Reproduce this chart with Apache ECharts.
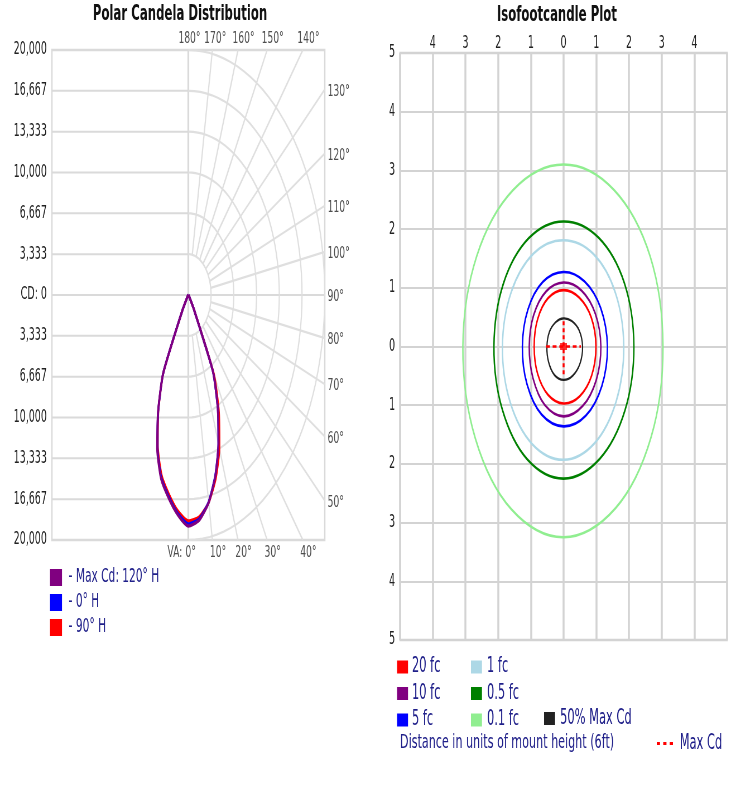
<!DOCTYPE html>
<html><head><meta charset="utf-8">
<script src="https://cdn.jsdelivr.net/npm/echarts@6/dist/echarts.min.js"></script>
<style>
html,body{margin:0;padding:0;background:#fff;overflow:hidden;width:750px;height:800px}
#c{height:800px;transform-origin:0 0}
</style>
</head><body><div id="c"></div>
<script>
const FONT = "'DejaVu Sans','Verdana',sans-serif";
// The reference image is horizontally squeezed; the chart is drawn on a wider canvas and squeezed by CSS.
const SX = 0.558;
const W = Math.ceil(750 / SX);

// ---------- Polar candela distribution (vertical angle VA, candela) ----------
const vaAngles      = [0, 5, 10, 15, 20, 25, 30, 35, 40, 45, 50];
const maxCdLeft     = [18860, 18000, 16800, 15500, 13350, 10500, 7400, 1500, 300, 100, 0];
const maxCdRight    = [18860, 18450, 17200, 15300, 12900, 10200, 7200, 1400, 300, 100, 0];
const h0Left        = [18700, 17900, 16700, 15400, 13250, 10450, 7350, 1500, 300, 100, 0];
const h0Right       = [18700, 18350, 17150, 15250, 12900, 10200, 7200, 1400, 300, 100, 0];
const h90Left       = [18450, 17700, 16500, 15200, 13100, 10400, 7300, 1500, 300, 100, 0];
const h90Right      = [18450, 18200, 17200, 15500, 13300, 10600, 7500, 1500, 300, 100, 0];
const cdTickLabels  = ['CD: 0', '3,333', '6,667', '10,000', '13,333', '16,667', '20,000'];
const cdMax         = 20000;
const ringCount     = 6;
const gridAngles    = [10, 20, 30, 40, 50, 60, 70, 80, 100, 110, 120, 130, 140, 150, 160, 170];
const topAngleLabels    = [180, 170, 160, 150, 140];
const rightAngleLabels  = [130, 120, 110, 100, 90, 80, 70, 60, 50];
const bottomAngleLabels = [0, 10, 20, 30, 40];
const polarSeriesNames  = ['Max Cd: 120° H', '0° H', '90° H'];

// ---------- Isofootcandle plot (radius in mount heights at each direction) ----------
const isoAngles = [0, 30, 60, 90, 120, 150, 180, 210, 240, 270, 300, 330];
const fc20   = [0.99, 0.98, 0.96, 0.96, 0.95, 0.92, 0.90, 0.92, 0.95, 0.97, 0.98, 0.99];
const fc10   = [1.14, 1.12, 1.10, 1.09, 1.08, 1.06, 1.05, 1.08, 1.15, 1.19, 1.17, 1.15];
const fc5    = [1.34, 1.31, 1.28, 1.27, 1.27, 1.26, 1.26, 1.29, 1.34, 1.36, 1.36, 1.35];
const fc1    = [1.84, 1.83, 1.82, 1.81, 1.83, 1.85, 1.87, 1.89, 1.92, 1.93, 1.90, 1.86];
const fc05   = [2.15, 2.15, 2.14, 2.13, 2.13, 2.13, 2.13, 2.16, 2.22, 2.25, 2.21, 2.17];
const fc01   = [3.04, 3.06, 3.08, 3.10, 3.08, 3.07, 3.08, 3.12, 3.20, 3.25, 3.18, 3.09];
const halfMaxCd = [0.58, 0.55, 0.50, 0.48, 0.48, 0.50, 0.51, 0.53, 0.56, 0.57, 0.57, 0.58];
const maxCdCrossX = [-0.54, 0.53];
const maxCdCrossY = [0.43, -0.51];
const isoTicks = [-5, -4, -3, -2, -1, 0, 1, 2, 3, 4, 5];
const isoNames = ['20 fc', '10 fc', '5 fc', '1 fc', '0.5 fc', '0.1 fc', '50% Max Cd'];
const isoColors = ['#ff0000', '#800080', '#0000ff', '#add8e6', '#008000', '#90ee90', '#000000'];
const isoData = [fc20, fc10, fc5, fc1, fc05, fc01, halfMaxCd];

// ---------- helpers ----------
const rad = d => d * Math.PI / 180;
const cdPerRing = cdMax / ringCount;
function polarCurve(left, right) {
  const pts = [];
  for (let i = right.length - 1; i >= 0; i--) {
    const r = right[i] / cdPerRing, a = rad(vaAngles[i]);
    pts.push([r * Math.sin(a), -r * Math.cos(a)]);
  }
  for (let i = 1; i < left.length; i++) {
    const r = left[i] / cdPerRing, a = rad(vaAngles[i]);
    pts.push([-r * Math.sin(a), -r * Math.cos(a)]);
  }
  return pts;
}
function edgePoint(deg) {
  const a = rad(deg);
  const s = Math.abs(Math.sin(a)), c = Math.abs(Math.cos(a));
  const t = Math.min(s > 1e-9 ? ringCount / s : Infinity, c > 1e-9 ? ringCount / c : Infinity);
  return [t * Math.sin(a), -t * Math.cos(a)];
}
function contourPoints(radii) {
  return radii.map((r, i) => [r * Math.cos(rad(isoAngles[i])), r * Math.sin(rad(isoAngles[i]))]);
}

const GRID_COLOR = '#dadada';
const series = [];
function gridLine(data, width, color) {
  series.push({ type: 'line', xAxisIndex: 0, yAxisIndex: 0, data, symbol: 'none', silent: true,
    lineStyle: { color: color || GRID_COLOR, width: width || 2 }, z: 1, animation: false });
}
for (let k = -ringCount; k <= ringCount; k++) {
  if (k === 0) gridLine([[-ringCount, 0], [ringCount, 0]], 2);
  else gridLine([[-ringCount, k], [0, k]], 2);
}
gridLine([[0, -ringCount], [0, ringCount]], 3.2);
for (let k = 1; k <= ringCount; k++) {
  const pts = [];
  for (let d = 0; d <= 180; d += 3) pts.push([k * Math.sin(rad(d)), -k * Math.cos(rad(d))]);
  gridLine(pts, 2.2, '#dfdfdf');
}
gridAngles.forEach(d => {
  const a = rad(d);
  gridLine([[Math.sin(a), -Math.cos(a)], edgePoint(d)], 2.2, '#dfdfdf');
});
function angleLabelSeries(list, position, distance, fmt, offsetFn) {
  series.push({
    type: 'scatter', xAxisIndex: 0, yAxisIndex: 0, symbolSize: 0.1, silent: true, animation: false,
    data: list.map(d => ({ value: edgePoint(d), deg: d,
      label: { offset: offsetFn ? offsetFn(d) : [0, 0] } })),
    label: { show: true, position, distance, color: '#222', fontFamily: FONT, fontSize: 16.5,
      formatter: p => fmt(p.data.deg) }
  });
}
angleLabelSeries(topAngleLabels, 'top', 3, d => d + '°', d => [d === 180 ? 2 : (d === 170 ? 5 : 10), 0]);
angleLabelSeries(rightAngleLabels, 'right', 5, d => d + '°', () => [0, 2]);
angleLabelSeries(bottomAngleLabels, 'bottom', 4, d => (d === 0 ? 'VA: ' : '') + d + '°', d => [d === 0 ? -12 : 10, 0]);

const polarCurves = [
  { name: polarSeriesNames[2], color: '#ff0000', pts: polarCurve(h90Left, h90Right) },
  { name: polarSeriesNames[1], color: '#0000ff', pts: polarCurve(h0Left, h0Right) },
  { name: polarSeriesNames[0], color: '#800080', pts: polarCurve(maxCdLeft, maxCdRight) }
];
polarCurves.forEach(c => series.push({
  type: 'line', name: c.name, xAxisIndex: 0, yAxisIndex: 0, data: c.pts, symbol: 'none', smooth: 0.2,
  itemStyle: { color: c.color }, lineStyle: { color: c.color, width: 3.5 }, z: 3, animation: false
}));

// iso contours as closed smooth polygons through the axis scales
function contourSeries(name, radii, color, width) {
  const pts = contourPoints(radii);
  series.push({
    type: 'custom', name, coordinateSystem: 'cartesian2d', xAxisIndex: 1, yAxisIndex: 1,
    data: pts, itemStyle: { color }, z: 3, animation: false, silent: true,
    renderItem: (params, api) => {
      if (params.dataIndex !== 0) return null;
      return { type: 'polygon', shape: { points: pts.map(p => api.coord(p)), smooth: 0.35 },
        style: { fill: 'none', stroke: color, lineWidth: width } };
    }
  });
}
for (let i = isoData.length - 2; i >= 0; i--) contourSeries(isoNames[i], isoData[i], isoColors[i], 2.6);
contourSeries(isoNames[6], halfMaxCd, '#222222', 2.2);

series.push({ type: 'line', name: 'Max Cd', xAxisIndex: 1, yAxisIndex: 1, data: [[maxCdCrossX[0], 0], [maxCdCrossX[1], 0]],
  symbol: 'none', itemStyle: { color: '#ff0000' }, lineStyle: { color: '#ff0000', width: 2.5, type: [7, 5] }, z: 4, animation: false });
series.push({ type: 'line', name: 'Max Cd', xAxisIndex: 1, yAxisIndex: 1, data: [[0, maxCdCrossY[0]], [0, maxCdCrossY[1]]],
  symbol: 'none', itemStyle: { color: '#ff0000' }, lineStyle: { color: '#ff0000', width: 3.5, type: [4, 3] }, z: 4, animation: false });
series.push({ type: 'scatter', name: 'maxPoint', xAxisIndex: 1, yAxisIndex: 1, data: [[0, 0]], symbol: 'rect', symbolSize: [12, 7],
  itemStyle: { color: '#ff0000' }, z: 5, silent: true, animation: false });

const LEG_COLOR = '#20208a';
function legend(names, left, top, pad, extra) {
  return Object.assign({ orient: 'vertical', left, top, selectedMode: false, itemWidth: 19.7, itemHeight: 13, itemGap: 5.5,
    data: names.map(n => ({ name: n, icon: 'rect' })), padding: 0,
    textStyle: { color: LEG_COLOR, fontFamily: FONT, fontSize: 20.5, padding: [0, 0, 0, pad] } }, extra || {});
}

const AXIS_LABEL = { color: '#222', fontFamily: FONT, fontSize: 17 };
const option = {
  backgroundColor: '#fff',
  animation: false,
  grid: [
    { left: 93, top: 50, width: 489, height: 490, show: true, borderColor: GRID_COLOR, borderWidth: 2.5, backgroundColor: 'transparent' },
    { left: 717, top: 53, width: 586, height: 587, show: true, borderColor: '#d3d3d3', borderWidth: 2.5, backgroundColor: 'transparent' }
  ],
  xAxis: [
    { gridIndex: 0, type: 'value', min: -ringCount, max: ringCount, show: false },
    { gridIndex: 1, type: 'value', min: isoTicks[0], max: isoTicks[isoTicks.length - 1], interval: 1, position: 'top',
      axisLine: { show: false }, axisTick: { show: false },
      axisLabel: Object.assign({ margin: 1, formatter: v => (Math.abs(v) === 5 ? '' : String(Math.abs(v))) }, AXIS_LABEL),
      splitLine: { show: true, lineStyle: { color: '#d3d3d3', width: 3.5 } } }
  ],
  yAxis: [
    { gridIndex: 0, type: 'value', min: -ringCount, max: ringCount, interval: 1,
      axisLine: { show: false }, axisTick: { show: false }, splitLine: { show: false },
      axisLabel: Object.assign({ margin: 9, formatter: v => cdTickLabels[Math.abs(Math.round(v))] }, AXIS_LABEL) },
    { gridIndex: 1, type: 'value', min: isoTicks[0], max: isoTicks[isoTicks.length - 1], interval: 1,
      axisLine: { show: false }, axisTick: { show: false },
      axisLabel: Object.assign({ margin: 9, formatter: v => String(Math.abs(v)) }, AXIS_LABEL),
      splitLine: { show: true, lineStyle: { color: '#d3d3d3', width: 2 } } }
  ],
  legend: [
    legend(polarSeriesNames, 89.6, 568, 7, { itemWidth: 21.5, itemHeight: 17, itemGap: 6, formatter: n => '- ' + n,
      textStyle: { color: LEG_COLOR, fontFamily: FONT, fontSize: 19, padding: [0, 0, 0, 7] } }),
    legend(isoNames.slice(0, 3), 711.5, 656.5, 2),
    legend(isoNames.slice(3, 6), 844, 656.5, 4),
    legend(isoNames.slice(6), 975, 708, 4),
    { orient: 'vertical', left: 1177, top: 733, selectedMode: false, itemWidth: 29, itemHeight: 3.5, padding: 0,
      data: [{ name: 'Max Cd', icon: 'path://M0,0h2v1h-2z M4,0h2v1h-2z M8,0h2v1h-2z' }],
      textStyle: { color: LEG_COLOR, fontFamily: FONT, fontSize: 20.5, padding: [0, 0, 0, 7] } }
  ],
  graphic: [
    { type: 'text', x: 322.6, y: 15, style: { text: 'Polar Candela Distribution', fontFamily: FONT, fontSize: 21, fontWeight: 'bold', fill: '#111', align: 'center', verticalAlign: 'middle' } },
    { type: 'text', x: 998, y: 16, style: { text: 'Isofootcandle Plot', fontFamily: FONT, fontSize: 21, fontWeight: 'bold', fill: '#111', align: 'center', verticalAlign: 'middle' } },
    { type: 'text', x: 716.8, y: 743, style: { text: 'Distance in units of mount height (6ft)', fontFamily: FONT, fontSize: 20, fill: LEG_COLOR, align: 'left', verticalAlign: 'middle' } }
  ],
  series
};
const el = document.getElementById('c');
el.style.width = W + 'px';
el.style.transform = 'scaleX(' + SX + ')';
const chart = echarts.init(el, null, { renderer: 'canvas', width: W, height: 800 });
chart.setOption(option);
</script></body></html>
